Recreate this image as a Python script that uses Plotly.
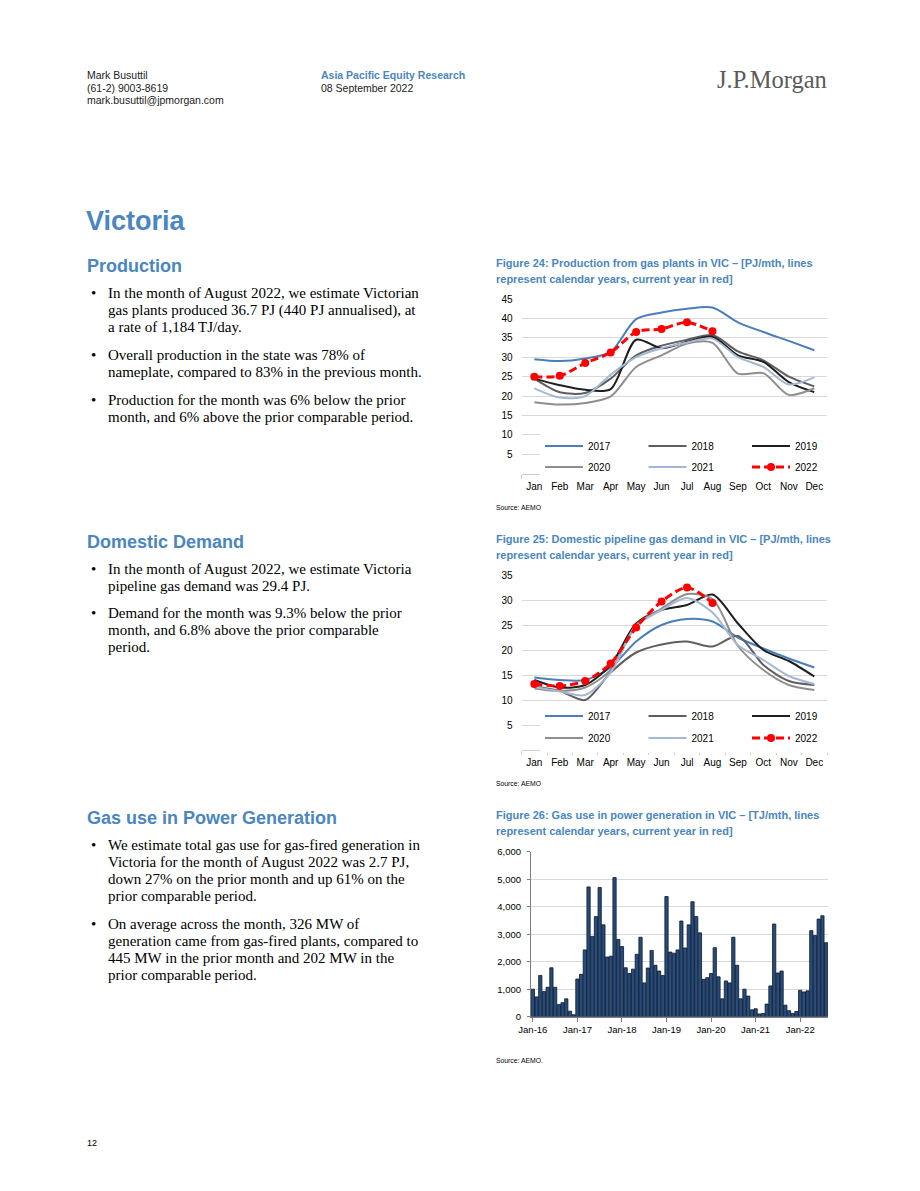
import plotly.graph_objects as go

# ---------------- data ----------------
months = ["Jan", "Feb", "Mar", "Apr", "May", "Jun", "Jul", "Aug", "Sep", "Oct", "Nov", "Dec"]
years = ["2017", "2018", "2019", "2020", "2021", "2022"]

# Figure 24: production from gas plants in VIC (PJ/mth)
prod_2017 = [29.5, 29.0, 29.7, 31.4, 39.8, 41.5, 42.5, 42.8, 39.0, 36.5, 34.2, 31.8]
prod_2018 = [24.5, 21.0, 20.8, 24.5, 30.5, 33.0, 34.5, 35.7, 31.5, 29.2, 25.0, 22.5]
prod_2019 = [24.5, 22.8, 21.6, 21.8, 34.5, 32.3, 34.0, 35.3, 30.5, 28.8, 23.6, 21.0]
prod_2020 = [18.4, 17.8, 18.2, 19.9, 27.5, 30.5, 33.5, 33.7, 25.8, 25.9, 20.3, 22.0]
prod_2021 = [22.0, 19.6, 20.0, 25.5, 30.0, 32.3, 33.8, 34.8, 30.0, 27.5, 23.0, 24.8]
prod_2022 = [25.0, 25.2, 28.5, 31.2, 36.5, 37.3, 39.0, 36.7]

# Figure 25: domestic pipeline gas demand in VIC (PJ/mth)
dem_2017 = [14.5, 14.0, 14.0, 16.5, 21.7, 25.0, 26.2, 25.7, 22.5, 20.3, 18.3, 16.5]
dem_2018 = [12.7, 11.8, 10.0, 15.5, 19.5, 21.1, 21.7, 20.7, 22.8, 17.0, 13.8, 13.0]
dem_2019 = [14.0, 12.5, 13.0, 17.0, 25.3, 28.0, 29.0, 31.1, 25.3, 20.0, 17.8, 14.7]
dem_2020 = [12.3, 11.8, 12.5, 16.0, 25.0, 28.3, 31.2, 30.2, 20.8, 16.0, 13.0, 12.0]
dem_2021 = [12.6, 11.7, 11.0, 15.5, 24.8, 28.0, 30.4, 27.5, 21.0, 18.0, 14.8, 13.2]
dem_2022 = [13.2, 12.8, 13.8, 17.3, 24.5, 29.7, 32.5, 29.4]

# Figure 26: gas use in power generation in VIC (TJ/mth), Jan-16 .. Aug-22
gpg_2016 = [1000, 720, 1500, 920, 1070, 1780, 1070, 440, 510, 650, 200, 70]
gpg_2017 = [1370, 1540, 2430, 4720, 2920, 3640, 4700, 3340, 2170, 2200, 5060, 2810]
gpg_2018 = [2550, 1780, 1570, 1730, 2270, 2890, 1230, 1770, 2410, 1870, 1660, 1500]
gpg_2019 = [4370, 2350, 2310, 2430, 3480, 2500, 3340, 4180, 3640, 3050, 1360, 1420]
gpg_2020 = [1570, 2510, 1450, 650, 1300, 1230, 2890, 1870, 650, 1000, 750, 250]
gpg_2021 = [290, 100, 120, 460, 1120, 3370, 1590, 1660, 420, 220, 120, 190]
gpg_2022 = [960, 900, 940, 3130, 2950, 3550, 3670, 2690]
gpg_years = ["16", "17", "18", "19", "20", "21", "22"]
gpg_tick_labels = ["Jan-16", "Jan-17", "Jan-18", "Jan-19", "Jan-20", "Jan-21", "Jan-22"]

# ---------------- helpers ----------------
# the page body has an 8px margin, so the figure is sized to fit inside it
OFF = 8
W, H = 920 - 2 * OFF, 1191 - 2 * OFF


def px(x):
    return (x - OFF) / W


def py(y):
    return 1 - (y - OFF) / H


BLUE_HEAD = "#4A86C1"
BLUE_FIG = "#4A86C1"
SANS = "Liberation Sans, Arial, sans-serif"
SERIF = "Liberation Serif, Times New Roman, serif"

line_colors = ["#4A7EBB", "#5F5F5F", "#1E1E1E", "#8E8E8E", "#A4B8D4", "#FF0000"]

fig = go.Figure()

prod_series = [prod_2017, prod_2018, prod_2019, prod_2020, prod_2021, prod_2022]
dem_series = [dem_2017, dem_2018, dem_2019, dem_2020, dem_2021, dem_2022]


def add_lines(series, xa, ya, leg_a, leg_b):
    for i, (yr, vals) in enumerate(zip(years, series)):
        legend = leg_a if i < 3 else leg_b
        if yr == "2022":
            fig.add_trace(go.Scatter(
                x=months[:len(vals)], y=vals, name=yr, xaxis=xa, yaxis=ya, legend=legend,
                mode="lines+markers", line=dict(color="#FF0000", width=3, dash="8px,4px", shape="spline", smoothing=0.8),
                marker=dict(color="#FF0000", size=8, symbol="circle")))
        else:
            fig.add_trace(go.Scatter(
                x=months[:len(vals)], y=vals, name=yr, xaxis=xa, yaxis=ya, legend=legend,
                mode="lines", line=dict(color=line_colors[i], width=2, shape="spline", smoothing=0.8)))


add_lines(prod_series, "x", "y", "legend", "legend2")
add_lines(dem_series, "x2", "y2", "legend3", "legend4")

gpg_all = gpg_2016 + gpg_2017 + gpg_2018 + gpg_2019 + gpg_2020 + gpg_2021 + gpg_2022
gpg_x = [f"{m}-{y}" for y in gpg_years for m in months][:len(gpg_all)]
fig.add_trace(go.Bar(x=gpg_x, y=gpg_all, xaxis="x3", yaxis="y3", showlegend=False,
                     marker=dict(color="#284C7C", line=dict(color="#0B1828", width=0.8))))

# ---------------- axes ----------------
line_x_common = dict(type="category", showline=True, linecolor="#D0D0D0", linewidth=1,
                     ticks="outside", ticklen=4, tickcolor="#D0D0D0", tickson="boundaries",
                     ticklabelstandoff=3,
                     showgrid=False, tickangle=0, tickfont=dict(family=SANS, size=10, color="#000000"),
                     range=[-0.5, 11.5], fixedrange=True)
line_y_common = dict(showline=False, ticks="", showgrid=True, gridcolor="#D9D9D9", gridwidth=1,
                     zeroline=False, ticklabelstandoff=8,
                     tickfont=dict(family=SANS, size=10, color="#000000"))

fig.update_layout(
    xaxis=dict(domain=[px(521.6), px(827)], anchor="y", **line_x_common),
    yaxis=dict(domain=[py(473.7), py(299)], anchor="x", range=[0, 45],
               tickvals=[5, 10, 15, 20, 25, 30, 35, 40, 45], **line_y_common),
    xaxis2=dict(domain=[px(521.6), px(827)], anchor="y2", **line_x_common),
    yaxis2=dict(domain=[py(750), py(575)], anchor="x2", range=[0, 35],
                tickvals=[5, 10, 15, 20, 25, 30, 35], **line_y_common),
    xaxis3=dict(domain=[px(531), px(828)], anchor="y3", type="category",
                showline=True, linecolor="#7F7F7F", linewidth=1, ticks="outside", ticklen=4,
                tickcolor="#7F7F7F", tickvals=[f"Jan-{y}" for y in gpg_years], ticktext=gpg_tick_labels,
                tickangle=0, tickfont=dict(family=SANS, size=9.5, color="#000000"), showgrid=False,
                range=[-0.5, len(gpg_all) - 0.5], fixedrange=True),
    yaxis3=dict(domain=[py(1016.7), py(851.7)], anchor="x3", range=[0, 6000], tickformat=",",
                tickvals=[0, 1000, 2000, 3000, 4000, 5000, 6000],
                showline=True, linecolor="#7F7F7F", linewidth=1, ticks="outside", ticklen=3,
                tickcolor="#7F7F7F", showgrid=True, gridcolor="#D9D9D9", zeroline=False,
                ticklabelstandoff=4,
                tickfont=dict(family=SANS, size=9.5, color="#000000")),
    bargap=0.12,
)

leg_common = dict(orientation="h", xanchor="left", yanchor="middle", bgcolor="#FFFFFF",
                  font=dict(family=SANS, size=10, color="#000000"), entrywidth=50.5,
                  entrywidthmode="pixels", itemwidth=38, borderwidth=0,
                  itemclick=False, itemdoubleclick=False)
fig.update_layout(
    legend=dict(x=px(540), y=py(446), **leg_common),
    legend2=dict(x=px(540), y=py(467), **leg_common),
    legend3=dict(x=px(540), y=py(716), **leg_common),
    legend4=dict(x=px(540), y=py(738), **leg_common),
)

# ---------------- text ----------------
annotations = []


def txt(x, y, text, size, color="#000000", family=SANS, bold=False, xanchor="left"):
    if bold:
        text = f"<b>{text}</b>"
    annotations.append(dict(x=px(x), y=py(y), xref="paper", yref="paper", text=text,
                            showarrow=False, xanchor=xanchor, yanchor="middle",
                            font=dict(family=family, size=size, color=color)))


# header
txt(85, 75, "Mark Busuttil", 10.5, "#222222")
txt(85, 88, "(61-2) 9003-8619", 10.5, "#222222")
txt(85, 100, "mark.busuttil@jpmorgan.com", 10.5, "#222222")
txt(319, 75, "Asia Pacific Equity Research", 10.5, BLUE_HEAD, bold=True)
txt(319, 88, "08 September 2022", 10.5, "#222222")
txt(829, 80, "J.P.Morgan", 24.5, "#5A5A5A", family=SERIF, xanchor="right")

# section headings
txt(84, 221, "Victoria", 27, BLUE_HEAD, bold=True)
txt(85, 266, "Production", 18, BLUE_HEAD, bold=True)
txt(85, 542, "Domestic Demand", 18, BLUE_HEAD, bold=True)
txt(85, 818, "Gas use in Power Generation", 18, BLUE_HEAD, bold=True)

bullets = [
    (293, ["In the month of August 2022, we estimate Victorian",
           "gas plants produced 36.7 PJ (440 PJ annualised), at",
           "a rate of 1,184 TJ/day."]),
    (355, ["Overall production in the state was 78% of",
           "nameplate, compared to 83% in the previous month."]),
    (400, ["Production for the month was 6% below the prior",
           "month, and 6% above the prior comparable period."]),
    (569, ["In the month of August 2022, we estimate Victoria",
           "pipeline gas demand was 29.4 PJ."]),
    (613, ["Demand for the month was 9.3% below the prior",
           "month, and 6.8% above the prior comparable",
           "period."]),
    (845, ["We estimate total gas use for gas-fired generation in",
           "Victoria for the month of August 2022 was 2.7 PJ,",
           "down 27% on the prior month and up 61% on the",
           "prior comparable period."]),
    (924, ["On average across the month, 326 MW of",
           "generation came from gas-fired plants, compared to",
           "445 MW in the prior month and 202 MW in the",
           "prior comparable period."]),
]
for y0, lines in bullets:
    txt(89, y0, "•", 15, "#000000", family=SERIF)
    for k, line in enumerate(lines):
        txt(106, y0 + 17 * k, line, 15, "#000000", family=SERIF)

# figure titles
titles = [
    (263, "Figure 24: Production from gas plants in VIC – [PJ/mth, lines"),
    (279, "represent calendar years, current year in red]"),
    (539, "Figure 25: Domestic pipeline gas demand in VIC – [PJ/mth, lines"),
    (555, "represent calendar years, current year in red]"),
    (815, "Figure 26: Gas use in power generation in VIC – [TJ/mth, lines"),
    (831, "represent calendar years, current year in red]"),
]
for y0, t in titles:
    txt(494, y0, t, 11, BLUE_FIG, family=SANS, bold=True)

txt(494, 507, "Source: AEMO", 6.8, "#000000")
txt(494, 783, "Source: AEMO", 6.8, "#000000")
txt(494, 1060, "Source: AEMO.", 6.8, "#000000")

txt(85, 1143, "12", 9, "#000000")

fig.update_layout(
    width=W, height=H, margin=dict(l=0, r=0, t=0, b=0, autoexpand=False),
    paper_bgcolor="#FFFFFF", plot_bgcolor="#FFFFFF",
    annotations=annotations, showlegend=True,
)

fig.write_html("out.html")
